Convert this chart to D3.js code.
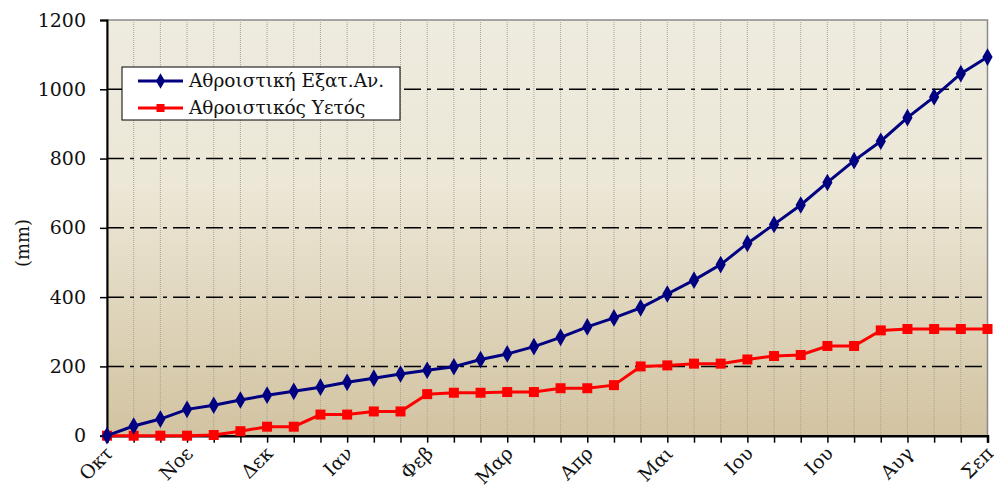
<!DOCTYPE html>
<html>
<head>
<meta charset="utf-8">
<script src="https://cdn.jsdelivr.net/npm/d3@7"></script>
<style>
  body { margin: 0; background: #fff; }
  svg text { font-family: "DejaVu Serif", "Liberation Serif", serif; fill: #111; }
</style>
</head>
<body>
<div class="chart"></div>
<script>
// month labels, one every 3rd point (34 points, ~10-day steps)
var months = ["Οκτ", "Νοε", "Δεκ", "Ιαν", "Φεβ", "Μαρ", "Απρ", "Μαι", "Ιου", "Ιου", "Αυγ", "Σεπ"];
var evapCum = [0, 28, 48, 76, 88, 103, 117, 128, 140, 154, 166, 178, 189, 199, 220, 236, 257,
               284, 314, 340, 369, 409, 449, 494, 555, 610, 666, 731, 794, 850, 918, 978, 1045, 1093];
var rainCum = [0, 0, 0, 0, 2, 13, 26, 26, 61, 61, 70, 70, 120, 124, 124, 126, 126,
               137, 137, 146, 200, 203, 208, 208, 220, 230, 233, 259, 259, 304, 308, 308, 308, 308];
var yTicks = [0, 200, 400, 600, 800, 1000, 1200];
var seriesNames = ["Αθροιστική Εξατ.Αν.", "Αθροιστικός Υετός"];

var width = 1008, height = 490;
var margin = {left: 107, right: 20, top: 20, bottom: 54};
var fontFam = "'DejaVu Serif', 'Liberation Serif', serif";

var svg = d3.select(".chart").append("svg")
    .attr("width", width)
    .attr("height", height);

var defs = svg.append("defs");
var grad = defs.append("linearGradient")
    .attr("id", "bg").attr("x1", 0).attr("y1", 0).attr("x2", 0).attr("y2", 1);
grad.append("stop").attr("offset", "0%").attr("stop-color", "#EEEBDF");
grad.append("stop").attr("offset", "40%").attr("stop-color", "#ECE7D6");
grad.append("stop").attr("offset", "100%").attr("stop-color", "#D2C3A1");

var x = d3.scaleLinear()
    .domain([0, evapCum.length - 1])
    .range([margin.left, width - margin.right - 0.5]);

var y = d3.scaleLinear()
    .domain([0, 1200])
    .range([height - margin.bottom - 0.3, margin.top]);

// plot background
svg.append("rect")
    .attr("x", x(0)).attr("y", y(1200))
    .attr("width", x(33) - x(0)).attr("height", y(0) - y(1200))
    .attr("fill", "url(#bg)")
    .attr("stroke", "#8a8a8a").attr("stroke-width", 1.5);

// vertical dotted grid
svg.append("g").selectAll("line")
    .data(d3.range(1, evapCum.length - 1))
    .enter().append("line")
    .attr("x1", function (d) { return x(d); })
    .attr("x2", function (d) { return x(d); })
    .attr("y1", y(1200)).attr("y2", y(0))
    .attr("stroke", "#a8a294")
    .attr("stroke-width", 1)
    .attr("stroke-dasharray", "1,1");

// horizontal dash-dot grid
svg.append("g").selectAll("line")
    .data(yTicks.filter(function (d) { return d > 0 && d < 1200; }))
    .enter().append("line")
    .attr("x1", x(0)).attr("x2", x(33))
    .attr("y1", function (d) { return y(d); })
    .attr("y2", function (d) { return y(d); })
    .attr("stroke", "#000")
    .attr("stroke-width", 1.5)
    .attr("stroke-dasharray", "17,6,4,6");

// y axis
var yAxis = svg.append("g")
    .attr("transform", "translate(" + x(0) + ",0)")
    .call(d3.axisLeft(y).tickValues(yTicks).tickSize(7).tickPadding(14).tickFormat(d3.format("d")));
yAxis.attr("font-family", fontFam);
yAxis.select(".domain").attr("stroke", "#000").attr("stroke-width", 2);
yAxis.selectAll(".tick line").attr("stroke", "#000").attr("stroke-width", 1.5);
yAxis.selectAll("text").style("font-size", "19px").attr("fill", "#111");

svg.append("text")
    .attr("transform", "translate(29," + 243 + ") rotate(-90)")
    .attr("text-anchor", "middle")
    .style("font-size", "18px")
    .text("(mm)");

// x axis
var xAxis = svg.append("g")
    .attr("transform", "translate(0," + y(0) + ")")
    .call(d3.axisBottom(x).tickValues(d3.range(evapCum.length)).tickSize(7).tickFormat(""));
xAxis.select(".domain").attr("stroke", "#000").attr("stroke-width", 2.5);
xAxis.selectAll(".tick line").attr("stroke", "#000").attr("stroke-width", 1.5);

// rotated month labels (-45 deg), anchored at their right end
svg.append("g").selectAll("text")
    .data(months)
    .enter().append("text")
    .attr("transform", function (d, i) {
        return "translate(" + (x(i * 3) + 7) + "," + (y(0) + 19) + ") rotate(-45)";
    })
    .attr("text-anchor", "end")
    .style("font-size", "19px")
    .text(function (d) { return d; });

// lines
var line = d3.line()
    .x(function (d, i) { return x(i); })
    .y(function (d) { return y(d); });

svg.append("path")
    .datum(rainCum)
    .attr("d", line)
    .attr("fill", "none")
    .attr("stroke", "#FF0000")
    .attr("stroke-width", 3);

svg.append("g").selectAll("rect")
    .data(rainCum)
    .enter().append("rect")
    .attr("x", function (d, i) { return x(i) - 5; })
    .attr("y", function (d) { return y(d) - 5; })
    .attr("width", 10).attr("height", 10)
    .attr("fill", "#FF0000");

svg.append("path")
    .datum(evapCum)
    .attr("d", line)
    .attr("fill", "none")
    .attr("stroke", "#000080")
    .attr("stroke-width", 3);

var diamond = d3.symbol().type(d3.symbolDiamond).size(90);
svg.append("g").selectAll("path")
    .data(evapCum)
    .enter().append("path")
    .attr("d", diamond)
    .attr("transform", function (d, i) { return "translate(" + x(i) + "," + y(d) + ")"; })
    .attr("fill", "#000080");

// legend
var lg = svg.append("g").attr("transform", "translate(122,67)");
lg.append("rect")
    .attr("width", 278).attr("height", 53)
    .attr("fill", "#fff").attr("stroke", "#000").attr("stroke-width", 1);
var items = lg.selectAll("g.item")
    .data(seriesNames)
    .enter().append("g")
    .attr("class", "item")
    .attr("transform", function (d, i) { return "translate(0," + (14 + i * 27) + ")"; });
items.append("line")
    .attr("x1", 16).attr("x2", 61)
    .attr("stroke", function (d, i) { return i ? "#FF0000" : "#000080"; })
    .attr("stroke-width", 3);
items.append("path")
    .attr("d", function (d, i) {
        return i ? d3.symbol().type(d3.symbolSquare).size(64)() : d3.symbol().type(d3.symbolDiamond).size(70)();
    })
    .attr("transform", "translate(38.5,0)")
    .attr("fill", function (d, i) { return i ? "#FF0000" : "#000080"; });
items.append("text")
    .attr("x", 67).attr("dy", "0.35em")
    .style("font-size", "18.5px")
    .text(function (d) { return d; });
</script>
</body>
</html>
